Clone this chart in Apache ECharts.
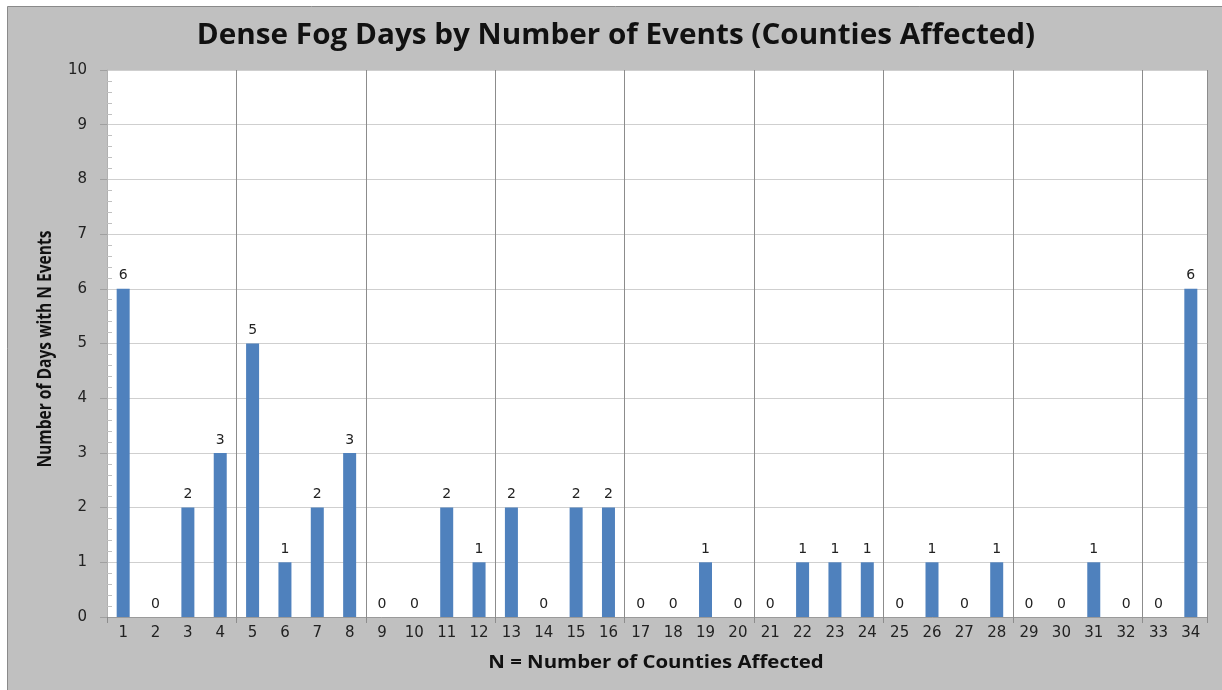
<!DOCTYPE html>
<html><head><meta charset="utf-8">
<script src="https://cdn.jsdelivr.net/npm/echarts@6/dist/echarts.min.js"></script>
<style>html,body{margin:0;padding:0;background:#fff}#c{width:1222px;height:690px}</style>
</head><body><div id="c"></div>
<script>
const categories = ['1','2','3','4','5','6','7','8','9','10','11','12','13','14','15','16','17','18','19','20','21','22','23','24','25','26','27','28','29','30','31','32','33','34'];
const days = [6,0,2,3,5,1,2,3,0,0,2,1,2,0,2,2,0,0,1,0,0,1,1,1,0,1,0,1,0,0,1,0,0,6];
const titleText = 'Dense Fog Days by Number of Events (Counties Affected)';
const xName = 'N = Number of Counties Affected';
const yName = 'Number of Days with N Events';

const chart = echarts.init(document.getElementById('c'));
const labelFont = 'DejaVu Sans';
const every4 = (idx) => idx % 4 === 0;
chart.setOption({
  animation: false,
  backgroundColor: '#fff',
  graphic: [{
    type: 'rect', z: -10, silent: true,
    shape: {x: 7.5, y: 6.5, width: 1220, height: 690},
    style: {fill: '#c0c0c0', stroke: '#8a8a8a', lineWidth: 1}
  }, {
    type: 'rect', z: -5, silent: true,
    shape: {x: 107, y: 70, width: 1100, height: 547},
    style: {fill: '#fff'}
  }, {
    type: 'text', x: 616, y: 36, scaleX: 1.06, silent: true,
    style: {text: titleText, align: 'center', verticalAlign: 'middle',
      font: 'bold 28px "Open Sans"', fill: '#111'}
  }, {
    type: 'text', x: 656, y: 663, scaleX: 1.2, silent: true,
    style: {text: xName, align: 'center', verticalAlign: 'middle',
      font: 'bold 17px "Open Sans"', fill: '#111'}
  }, {
    type: 'text', x: 46, y: 349, rotation: Math.PI / 2, scaleX: 0.82, silent: true,
    style: {text: yName, align: 'center', verticalAlign: 'middle',
      font: 'bold 19px "Open Sans"', fill: '#111'}
  }],
  grid: {left: 107, top: 70, width: 1100, height: 547, containLabel: false},
  xAxis: {
    type: 'category', data: categories, boundaryGap: true,
    axisLine: {lineStyle: {color: '#9a9a9a', width: 1}},
    axisTick: {show: true, interval: every4, length: 6, lineStyle: {color: '#8c8c8c'}},
    axisLabel: {interval: 0, margin: 9, fontFamily: labelFont, fontSize: 15, color: '#222'},
    splitLine: {show: true, interval: every4, lineStyle: {color: '#8c8c8c', width: 1}}
  },
  yAxis: [{
    type: 'value', min: 0, max: 10, interval: 1,
    axisLine: {show: true, lineStyle: {color: '#b0b0b0'}},
    axisTick: {show: true, length: 7, lineStyle: {color: '#a0a0a0'}},
    axisLabel: {margin: 20, fontFamily: labelFont, fontSize: 15, color: '#222'},
    splitLine: {show: true, lineStyle: {color: '#cfcfcf', width: 1}}
  }, {
    type: 'value', min: 0, max: 10, interval: 1, position: 'left', offset: -5,
    axisLine: {show: false},
    axisTick: {show: false},
    axisLabel: {show: false},
    splitLine: {show: false},
    minorTick: {show: true, splitNumber: 5, length: 5, lineStyle: {color: '#c0c0c0'}}
  }],
  series: [{
    type: 'bar', data: days, barWidth: 13,
    itemStyle: {color: '#4f81bd'},
    label: {show: true, position: 'top', distance: 6, fontFamily: labelFont, fontSize: 14, color: '#222'}
  }]
});
</script></body></html>
